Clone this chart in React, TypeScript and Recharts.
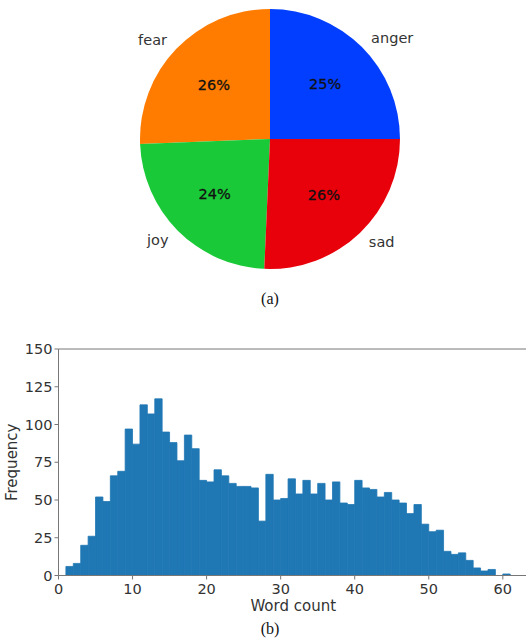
import React from 'react';
import { PieChart, Pie, Cell, BarChart, Bar, XAxis, YAxis, ReferenceLine, Label } from 'recharts';

const FONT = '"DejaVu Sans", Verdana, sans-serif';

// Pie (a)
const emotionNames = ['anger', 'fear', 'joy', 'sad'];
const emotionShares = [25.0, 25.6, 23.7, 25.7];
const emotionColors = ['#023EFF', '#FF7C00', '#1AC938', '#E8000B'];

// Histogram (b)
const wordCountBins = [
  1, 2, 3, 4, 5, 6, 7, 8, 9, 10, 11, 12, 13, 14, 15, 16, 17, 18, 19, 20,
  21, 22, 23, 24, 25, 26, 27, 28, 29, 30, 31, 32, 33, 34, 35, 36, 37, 38, 39, 40,
  41, 42, 43, 44, 45, 46, 47, 48, 49, 50, 51, 52, 53, 54, 55, 56, 57, 58, 59, 60,
];
const frequencies = [
  6, 8, 20, 26, 52, 49, 66, 69, 97, 87, 113, 107, 117, 95, 88, 76, 93, 84, 63, 62,
  70, 66, 61, 59, 59, 58, 36, 67, 50, 51, 64, 54, 63, 54, 61, 50, 62, 48, 47, 63,
  58, 57, 52, 55, 50, 48, 41, 47, 34, 29, 30, 16, 14, 15, 10, 5, 3, 4, 0, 1,
];
const xTicks = [0, 10, 20, 30, 40, 50, 60];
const yTicks = [0, 25, 50, 75, 100, 125, 150];

const pieData = emotionNames.map((name, i) => ({ name, value: emotionShares[i] }));
const histData = wordCountBins.map((b, i) => ({ x: b + 0.5, count: frequencies[i] }));

const RADIAN = Math.PI / 180;

const renderPieLabel = (props: any) => {
  const { cx, cy, midAngle, outerRadius, percent, name } = props;
  const cos = Math.cos(-midAngle * RADIAN);
  const sin = Math.sin(-midAngle * RADIAN);
  const lr = outerRadius * 1.1;
  const pr = outerRadius * 0.6;
  const lx = cx + lr * cos;
  const ly = cy + lr * sin;
  const px = cx + pr * cos;
  const py = cy + pr * sin;
  return (
    <g>
      <text
        x={lx}
        y={ly}
        textAnchor={lx > cx ? 'start' : 'end'}
        dominantBaseline="central"
        fill="#333"
        fontSize={14.5}
        fontFamily={FONT}
      >
        {name}
      </text>
      <text
        x={px}
        y={py}
        textAnchor="middle"
        dominantBaseline="central"
        fill="#111"
        fontSize={14.5}
        fontFamily={FONT}
        stroke="#111"
        strokeWidth={0.3}
      >
        {`${Math.round(percent * 100)}%`}
      </text>
    </g>
  );
};

const captionStyle: React.CSSProperties = {
  position: 'absolute',
  left: 0,
  width: 540,
  textAlign: 'center',
  fontFamily: '"Liberation Serif", "Times New Roman", serif',
  fontSize: 16,
  lineHeight: '18px',
  color: '#111',
};

export default function App() {
  return (
    <div
      style={{
        position: 'absolute',
        left: 0,
        top: 0,
        width: 526,
        height: 639,
        overflow: 'hidden',
        background: '#fff',
      }}
    >
      <div style={{ position: 'absolute', left: 0, top: 0 }}>
        <PieChart width={526} height={288} margin={{ top: 0, right: 0, bottom: 0, left: 0 }}>
          <Pie
            data={pieData}
            dataKey="value"
            nameKey="name"
            cx={270}
            cy={139}
            outerRadius={130}
            startAngle={0}
            endAngle={360}
            stroke="none"
            label={renderPieLabel}
            labelLine={false}
            isAnimationActive={false}
          >
            {pieData.map((d, i) => (
              <Cell key={d.name} fill={emotionColors[i]} />
            ))}
          </Pie>
        </PieChart>
      </div>
      <div style={{ ...captionStyle, top: 290 }}>(a)</div>

      <div style={{ position: 'absolute', left: 0, top: 330 }}>
        <BarChart
          width={528}
          height={309}
          data={histData}
          margin={{ top: 19, right: 0, bottom: 23.5, left: 0 }}
          barCategoryGap={0}
          barGap={0}
        >
          <XAxis
            type="number"
            dataKey="x"
            domain={[0, 63.4]}
            ticks={xTicks}
            interval={0}
            allowDataOverflow
            height={40}
            tickSize={4}
            tickMargin={4.5}
            stroke="#777"
            tick={{ fill: '#333', fontSize: 14.5, fontFamily: FONT }}
          >
            <Label
              value="Word count"
              position="insideTop"
              offset={25}
              fill="#333"
              fontSize={15}
              fontFamily={FONT}
            />
          </XAxis>
          <YAxis
            type="number"
            domain={[0, 150]}
            ticks={yTicks}
            interval={0}
            width={58.5}
            tickSize={4}
            tickMargin={2}
            stroke="#777"
            tick={{ fill: '#333', fontSize: 14.5, fontFamily: FONT }}
          >
            <Label
              content={(p: any) => {
                const vb = p.viewBox || { y: 19, height: 226.5 };
                const cyl = vb.y + vb.height / 2;
                return (
                  <text
                    x={17}
                    y={cyl}
                    transform={`rotate(-90, 17, ${cyl})`}
                    textAnchor="middle"
                    fill="#333"
                    fontSize={15}
                    fontFamily={FONT}
                  >
                    Frequency
                  </text>
                );
              }}
            />
          </YAxis>
          <ReferenceLine y={150} stroke="#777" />
          <Bar
            dataKey="count"
            fill="#1f77b4"
            stroke="#1f77b4"
            strokeWidth={0.8}
            barSize={7.38}
            isAnimationActive={false}
          />
        </BarChart>
      </div>
      <div style={{ ...captionStyle, top: 620 }}>(b)</div>
    </div>
  );
}
